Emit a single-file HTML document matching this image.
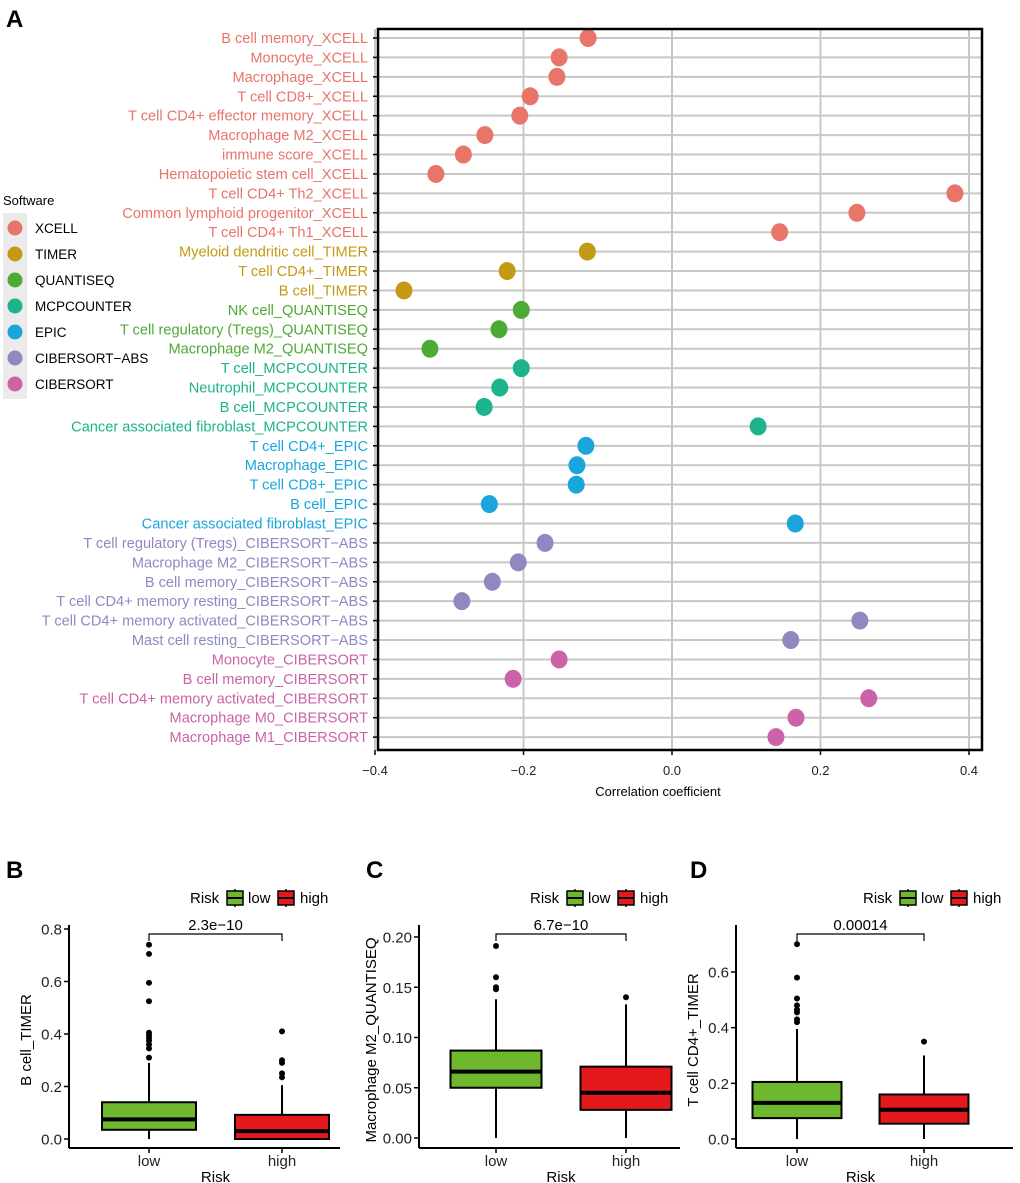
<!DOCTYPE html>
<html><head><meta charset="utf-8"><style>
body{margin:0;background:#fff;}
svg{display:block;font-family:"Liberation Sans",Arial,sans-serif;}
</style></head><body>
<svg id="fig" width="1020" height="1183" viewBox="0 0 1020 1183" xmlns="http://www.w3.org/2000/svg">
<text x="6" y="27" font-size="24" font-weight="bold">A</text>
<text x="6" y="878" font-size="24" font-weight="bold">B</text>
<text x="366" y="878" font-size="24" font-weight="bold">C</text>
<text x="690" y="878" font-size="24" font-weight="bold">D</text>
<g id="main"></g>
<g id="legend"></g>
<g id="boxes"></g>
</svg>
<script>
const labels=["B cell memory_XCELL","Monocyte_XCELL","Macrophage_XCELL","T cell CD8+_XCELL","T cell CD4+ effector memory_XCELL","Macrophage M2_XCELL","immune score_XCELL","Hematopoietic stem cell_XCELL","T cell CD4+ Th2_XCELL","Common lymphoid progenitor_XCELL","T cell CD4+ Th1_XCELL","Myeloid dendritic cell_TIMER","T cell CD4+_TIMER","B cell_TIMER","NK cell_QUANTISEQ","T cell regulatory (Tregs)_QUANTISEQ","Macrophage M2_QUANTISEQ","T cell_MCPCOUNTER","Neutrophil_MCPCOUNTER","B cell_MCPCOUNTER","Cancer associated fibroblast_MCPCOUNTER","T cell CD4+_EPIC","Macrophage_EPIC","T cell CD8+_EPIC","B cell_EPIC","Cancer associated fibroblast_EPIC","T cell regulatory (Tregs)_CIBERSORT−ABS","Macrophage M2_CIBERSORT−ABS","B cell memory_CIBERSORT−ABS","T cell CD4+ memory resting_CIBERSORT−ABS","T cell CD4+ memory activated_CIBERSORT−ABS","Mast cell resting_CIBERSORT−ABS","Monocyte_CIBERSORT","B cell memory_CIBERSORT","T cell CD4+ memory activated_CIBERSORT","Macrophage M0_CIBERSORT","Macrophage M1_CIBERSORT"];
const corrValues=[-0.113,-0.152,-0.155,-0.191,-0.205,-0.252,-0.281,-0.318,0.381,0.249,0.145,-0.114,-0.222,-0.361,-0.203,-0.233,-0.326,-0.203,-0.232,-0.253,0.116,-0.116,-0.128,-0.129,-0.246,0.166,-0.171,-0.207,-0.242,-0.283,0.253,0.160,-0.152,-0.214,0.265,0.167,0.140];
const groups=[0,0,0,0,0,0,0,0,0,0,0,1,1,1,2,2,2,3,3,3,3,4,4,4,4,4,5,5,5,5,5,5,6,6,6,6,6];
const software=["XCELL","TIMER","QUANTISEQ","MCPCOUNTER","EPIC","CIBERSORT−ABS","CIBERSORT"];
const xTicks=[-0.4,-0.2,0,0.2,0.4];
const tickText=["−0.4","−0.2","0.0","0.2","0.4"];

const lowStats={B:[0,0.035,0.075,0.14,0.29],C:[0,0.05,0.066,0.087,0.138],D:[0,0.075,0.13,0.205,0.395]};
const highStats={B:[0,0,0.03,0.092,0.205],C:[0,0.028,0.045,0.071,0.133],D:[0,0.055,0.105,0.16,0.3]};
const lowOut={B:[0.74,0.705,0.595,0.525,0.405,0.395,0.385,0.375,0.36,0.345,0.31],C:[0.191,0.16,0.15,0.148],D:[0.70,0.58,0.505,0.48,0.465,0.455,0.43,0.42]};
const highOut={B:[0.41,0.30,0.29,0.25,0.235],C:[0.14],D:[0.35]};
const pvals={B:"2.3e−10",C:"6.7e−10",D:"0.00014"};
const yTicksB=[0,0.2,0.4,0.6,0.8], yTicksC=[0,0.05,0.1,0.15,0.2], yTicksD=[0,0.2,0.4,0.6];

const colors=["#E8746A","#C49A14","#4DAA35","#1DB38C","#1AA6DC","#9088C0","#CC63A8"];
const NS="http://www.w3.org/2000/svg";
function mk(tag,attrs,parent,text){const e=document.createElementNS(NS,tag);for(const k in attrs)e.setAttribute(k,attrs[k]);if(text!==undefined)e.textContent=text;parent.appendChild(e);return e;}

const main=document.getElementById('main');
const L=378,R=982,T=29,B=750;
const xs=v=>672+v*742.5;
const ys=i=>38+i*19.42;
mk('rect',{x:L,y:T,width:R-L,height:B-T,fill:'#fff'},main);
xTicks.forEach((t,i)=>{
 const g=mk('line',{x1:xs(t),x2:xs(t),y1:T,y2:B,stroke:'#c8c8c8','stroke-width':2},main);
 
 
 mk('line',{x1:xs(t),x2:xs(t),y1:B,y2:B+5,stroke:'#000','stroke-width':1.5},main);
 const tx=mk('text',{x:xs(t),y:775,'font-size':13,'text-anchor':'middle',fill:'#222'},main,tickText[i]);
 
 
});
labels.forEach((lab,i)=>{
 const y=ys(i);
 const gl=mk('line',{x1:L,x2:R,y1:y,y2:y,stroke:'#c8c8c8','stroke-width':2},main);
 
 
 mk('line',{x1:L-5,x2:L,y1:y,y2:y,stroke:'#000','stroke-width':1.5},main);
 const t=mk('text',{x:L-10,y:y+5,'font-size':14.6,'text-anchor':'end',fill:colors[groups[i]]},main,lab);
 
 
});
labels.forEach((lab,i)=>{
 const c=mk('ellipse',{cx:xs(corrValues[i]),cy:ys(i),rx:8.5,ry:9,fill:colors[groups[i]]},main);
 
 
});
const fr=mk('rect',{x:L,y:T,width:R-L,height:B-T,fill:'none',stroke:'#000','stroke-width':2.5},main);


const xt=mk('text',{x:658,y:796,'font-size':13,'text-anchor':'middle'},main,'Correlation coefficient');



const lg=document.getElementById('legend');
mk('text',{x:3,y:205,'font-size':13},lg,'Software');
mk('rect',{x:3,y:213,width:24,height:186,fill:'#ebebeb'},lg);
software.forEach((s,i)=>{
 const y=228+i*26;
 const c=mk('circle',{cx:15,cy:y,r:7.5,fill:colors[i]},lg);
 
 
 const t=mk('text',{x:35,y:y+5,'font-size':13.5},lg,s);
 
 
});

const bx=document.getElementById('boxes');
function panel(key,ax,axR,y0,ytop,vtop,ticks,tickLbl,cLow,cHigh,title,bw){
 const g=mk('g',{},bx);
 
 
 const yv=v=>y0-(v/vtop)*(y0-ytop);
 const base=1148;
 mk('line',{x1:ax,x2:ax,y1:925,y2:base,stroke:'#000','stroke-width':2},g);
 mk('line',{x1:ax,x2:axR,y1:base,y2:base,stroke:'#000','stroke-width':2},g);
 ticks.forEach((t,i)=>{
  mk('line',{x1:ax-5,x2:ax,y1:yv(t),y2:yv(t),stroke:'#000','stroke-width':1.5},g);
  const tl=mk('text',{x:ax-7,y:yv(t)+5.5,'font-size':15,'text-anchor':'end',fill:'#222'},g,tickLbl[i]);
  
  
 });
 [[cLow,lowStats[key],lowOut[key],'#6DB82C','low'],[cHigh,highStats[key],highOut[key],'#E3191C','high']].forEach(([cx,s,o,col,nm])=>{
  mk('line',{x1:cx,x2:cx,y1:yv(s[0]),y2:yv(s[4]),stroke:'#000','stroke-width':2},g);
  const r=mk('rect',{x:cx-bw/2,y:yv(s[3]),width:bw,height:yv(s[1])-yv(s[3]),fill:col,stroke:'#000','stroke-width':2},g);
  
  
  mk('line',{x1:cx-bw/2,x2:cx+bw/2,y1:yv(s[2]),y2:yv(s[2]),stroke:'#000','stroke-width':4},g);
  o.forEach(v=>{const p=mk('circle',{cx:cx,cy:yv(v),r:3,fill:'#000'},g);
   
   });
  mk('line',{x1:cx,x2:cx,y1:base,y2:base+5,stroke:'#000','stroke-width':1.5},g);
  mk('text',{x:cx,y:1166,'font-size':15,'text-anchor':'middle',fill:'#222'},g,nm);
 });
 mk('path',{d:`M${cLow},941 V934 H${cHigh} V941`,fill:'none',stroke:'#000','stroke-width':1.2},g);
 mk('text',{x:(cLow+cHigh)/2,y:930,'font-size':15,'text-anchor':'middle'},g,pvals[key]);
 mk('text',{x:(cLow+cHigh)/2,y:1182,'font-size':15,'text-anchor':'middle'},g,'Risk');
 const at=mk('text',{x:0,y:0,'font-size':15,'text-anchor':'middle',transform:`translate(${ax-(key==='C'?43:38)},1040) rotate(-90)`},g,title);
 
 
 const lx=axR-150;
 mk('text',{x:lx,y:903,'font-size':15},g,'Risk');
 mk('line',{x1:lx+45,x2:lx+45,y1:889,y2:907,stroke:'#000','stroke-width':1.5},g);
 mk('rect',{x:lx+37,y:891,width:16,height:14,fill:'#6DB82C',stroke:'#000','stroke-width':1.5},g);
 mk('line',{x1:lx+37,x2:lx+53,y1:898,y2:898,stroke:'#000','stroke-width':2},g);
 mk('text',{x:lx+58,y:903,'font-size':15},g,'low');
 mk('line',{x1:lx+96,x2:lx+96,y1:889,y2:907,stroke:'#000','stroke-width':1.5},g);
 mk('rect',{x:lx+88,y:891,width:16,height:14,fill:'#E3191C',stroke:'#000','stroke-width':1.5},g);
 mk('line',{x1:lx+88,x2:lx+104,y1:898,y2:898,stroke:'#000','stroke-width':2},g);
 mk('text',{x:lx+110,y:903,'font-size':15},g,'high');
}
panel('B',69,340,1139,929,0.8,yTicksB,["0.0","0.2","0.4","0.6","0.8"],149,282,'B cell_TIMER',94);
panel('C',419,680,1138,937,0.2,yTicksC,["0.00","0.05","0.10","0.15","0.20"],496,626,'Macrophage M2_QUANTISEQ',91);
panel('D',736,1013,1139,972,0.6,yTicksD,["0.0","0.2","0.4","0.6"],797,924,'T cell CD4+_TIMER',89);
</script>
</body></html>
